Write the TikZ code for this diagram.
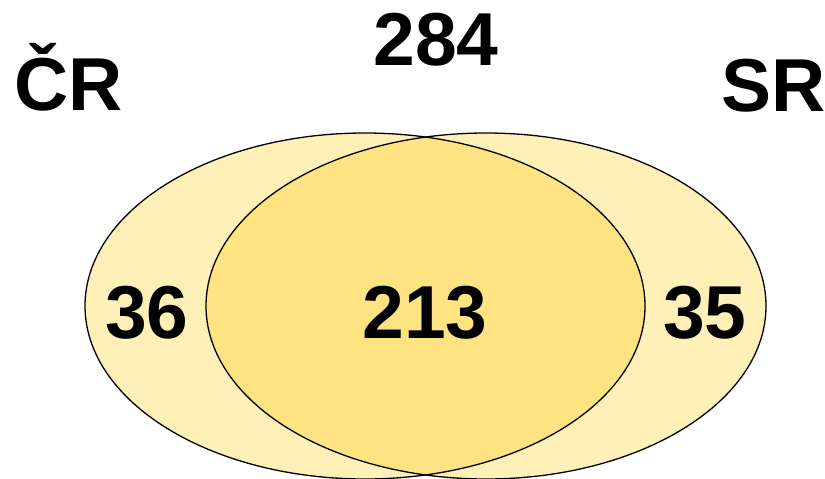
\documentclass[tikz,border=0pt]{standalone}
\usepackage{fontspec}
\setmainfont{Liberation Sans}
\usepackage{xcolor}
\usepackage{tikz}
\usetikzlibrary{positioning}

\definecolor{setpale}{HTML}{FEF0B6}
\definecolor{setdeep}{HTML}{FDE382}

\begin{document}
\begin{tikzpicture}[
        x=1pt, y=-1pt,
        setline/.style={line width=1.3pt, color=black},
        count/.style={font=\fontsize{75}{75}\selectfont\bfseries, anchor=base, inner sep=0pt}
    ]
                \useasboundingbox (0,0) rectangle (825,479);

                % both sets
                \fill[setpale] (365,306) ellipse [x radius=280, y radius=173];
                \fill[setpale] (486,306) ellipse [x radius=280, y radius=173];

                % overlap
                \begin{scope}
                    \clip (365,306) ellipse [x radius=280, y radius=173];
                    \fill[setdeep] (486,306) ellipse [x radius=280, y radius=173];
                \end{scope}

                \draw[setline] (365,306) ellipse [x radius=280, y radius=173];
                \draw[setline] (486,306) ellipse [x radius=280, y radius=173];

                \node[count] (cr) at (69,110) {ČR};
                \node[count] (sr) at (774,111) {SR};
                \node[count] (total) at (436,65) {284};
                \node[count] (onlycr) at (147,338) {36};
                \node[count] (both) at (425,338) {213};
                \node[count] (onlysr) at (705,338) {35};

\end{tikzpicture}
\end{document}
